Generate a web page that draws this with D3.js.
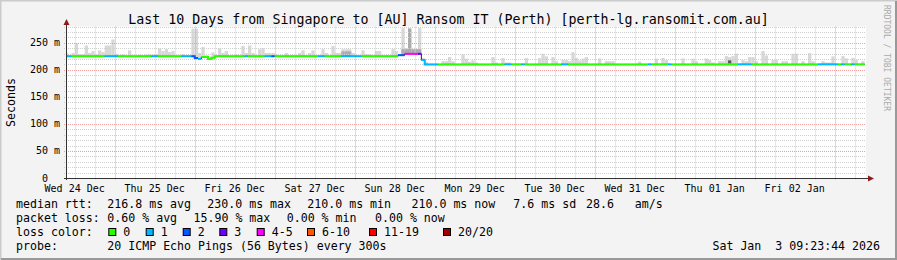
<!DOCTYPE html>
<html><head><meta charset="utf-8">
<script src="https://cdn.jsdelivr.net/npm/d3@7"></script>
<style>
html,body{margin:0;padding:0;background:#f3f3f3;}
svg{display:block;}
text{font-family:"DejaVu Sans Mono",monospace;white-space:pre;}
</style></head><body><svg id="c" width="897" height="260"></svg>
<script>
const title = "Last 10 Days from Singapore to [AU] Ransom IT (Perth) [perth-lg.ransomit.com.au]";
const startTime = Date.UTC(2025,11,24,9,23,44);
const endTime = Date.UTC(2026,0,3,9,23,44);
const firstBinTime = Date.UTC(2025,11,24,9,0,0);
const binCount = 240;
const dayLabels = ["Wed 24 Dec","Thu 25 Dec","Fri 26 Dec","Sat 27 Dec","Sun 28 Dec","Mon 29 Dec","Tue 30 Dec","Wed 31 Dec","Thu 01 Jan","Fri 02 Jan"];
const yTicks = [0,50,100,150,200,250];
const yTickNums = ["0","50","100","150","200","250"];
const yTickUnits = [" ","m","m","m","m","m"];

// median rtt (ms) as steps: value holds from this bin on
const medianStartBin = [0,39,40,41,43,44,45,100,102,107,108];
const medianValue    = [225,222,220,223.5,220,222.4,225,227,229.5,218,210];

// loss class per step (0:0, 1:1, 2:2, 3:3, 4:4-5)
const lossStartBin = [0,2,12,16,26,28,35,38,40,41,54,55,60,62,63,76,78,83,89,100,102,106,107,112,132,134,137,138,149,151,175,176,181,182,202,206,226,232,233,234,236,237];
const lossClass    = [1,0,1, 0, 1, 0, 1, 2, 1, 0, 1, 0, 1, 2, 0, 1, 0, 1, 0, 2,  4,  3,  1,  0,  1,  0,  1,  0,  1,  0,  1,  0,  1,  0,  1,  0,  1,  0,  1,  0,  1,  0];

// smoke: maximum rtt per hourly bin where visible above the median line
const smokeBin = [0,2,3,4,5,6,7,8,9,10,11,12,13,14,15,17,19,22,24,25,26,27,28,29,30,31,32,35,38,39,40,41,42,44,46,47,48,51,53,54,55,56,58,59,60,61,62,63,66,70,71,73,74,77,78,80,81,82,83,84,85,86,89,90,91,93,94,98,99,101,102,103,104,105,106,107,108,113,114,115,116,119,120,121,122,123,128,129,131,132,133,138,142,143,144,146,147,149,150,151,152,153,154,155,156,160,162,163,164,172,177,179,180,185,188,189,192,193,194,196,197,198,199,200,201,203,204,205,206,207,209,210,212,213,215,216,218,219,221,223,224,227,228,229,230,233,234,236,237,239];
const smokeMax = [231,231,249,229,229,245,231,234.6,229,236,232.7,245,245,256,229,229,236,228,228,229,228,229,239.5,234.6,238,232.7,234.6,229,276,276,231,242,227,232,239.5,231,234.6,228,244,231,245,231,238,240,231,231,231,228,231,231,236,231,236,238,231,244,231,231,238,238,238,231,236,229,229,234.6,234.6,238,234.6,277,240,277,238,238,277,222,214,216,216,223.5,216,228.5,220.5,215,217.4,213.5,223.5,213.5,221.6,213.5,213.5,221.6,221.6,229.7,224.8,223.5,216,218,218,216,232.7,222,217.4,220.5,223.5,221,216,216,216,215,220.5,222,218,221,220.5,216,221,218,213.5,216,216,225.3,223.5,225.3,229.7,218,216,223.5,223.5,216,234.6,226.6,218,218,216,216,229.7,229.7,216,230.7,216,216,213.5,213.5,224.8,225.3,221,222,218,216];
// darker (denser) smoke portion
const smokeMidBin = [83,84,85,101,102,103,104,105,106];
const smokeMid    = [234,234,234,238,238,276,238,238,238];
// very dense smoke cell
const denseBin = [199];
const denseLo = [211.6];
const denseHi = [217.4];

const lossLegend = ["0","1","2","3","4-5","6-10","11-19","20/20"];
const lossColors = ["#26ff00","#00b8ff","#0059ff","#7000ff","#ff00ff","#ff5500","#ff0000","#a00000"];

const statsRows = [
  ["median rtt:", ["216.8 ms avg","230.0 ms max","210.0 ms min","210.0 ms now","7.6 ms sd","28.6   am/s"]],
  ["packet loss:", ["0.60 % avg","15.90 % max","0.00 % min","0.00 % now"]]
];
const probeText = "20 ICMP Echo Pings (56 Bytes) every 300s";
const stampText = "Sat Jan  3 09:23:44 2026";

// ---------------------------------------------------------------
const svg = d3.select("#c");
const W = 897, H = 260;
const X0 = 66, X1 = 866, Y0 = 178, YT = 26.5;
const x = d3.scaleUtc().domain([new Date(startTime), new Date(endTime)]).range([X0, X1]);
const y = d3.scaleLinear().domain([0, 280]).range([Y0, YT]);
const binT = b => new Date(firstBinTime + b * 3600e3);
const cx = v => Math.max(X0, Math.min(X1, x(v)));

// background + 3D border
svg.append("rect").attr("width", W).attr("height", H).attr("fill", "#f3f3f3");
svg.append("path").attr("d", `M0.5,${H}V0.5H${W}`).attr("stroke", "#cbcbcb").attr("stroke-width", 2).attr("fill", "none");
svg.append("path").attr("d", `M${W-1},1V${H-1}H1`).attr("stroke", "#999").attr("stroke-width", 2).attr("fill", "none");

// canvas
svg.append("rect").attr("x", X0).attr("y", YT).attr("width", X1 - X0).attr("height", Y0 - YT).attr("fill", "#fff");

// smoke
const gS = svg.append("g");
const medianAt = b => { let v = medianValue[0]; medianStartBin.forEach((s, i) => { if (b >= s) v = medianValue[i]; }); return v; };
const lossAt = b => { let v = lossClass[0]; lossStartBin.forEach((s, i) => { if (b >= s) v = lossClass[i]; }); return v; };
smokeBin.forEach((b, i) => {
  const xa = cx(binT(b)), xb = cx(binT(b + 1));
  gS.append("rect").attr("x", xa).attr("width", xb - xa)
    .attr("y", y(smokeMax[i])).attr("height", y(medianAt(b)) - y(smokeMax[i]))
    .attr("fill", "#d8d8d8");
});
smokeMidBin.forEach((b, i) => {
  const xa = cx(binT(b)), xb = cx(binT(b + 1));
  gS.append("rect").attr("x", xa).attr("width", xb - xa)
    .attr("y", y(smokeMid[i])).attr("height", y(medianAt(b)) - y(smokeMid[i]))
    .attr("fill", "#ababab");
});
denseBin.forEach((b, i) => {
  const xa = cx(binT(b)), xb = cx(binT(b + 1));
  gS.append("rect").attr("x", xa).attr("width", xb - xa)
    .attr("y", y(denseHi[i])).attr("height", y(denseLo[i]) - y(denseHi[i]))
    .attr("fill", "#5a5a5a");
});

// grid
const gG = svg.append("g").attr("fill", "none").attr("stroke-dasharray", "1,1");
for (let v = 10; v <= 280; v += 10) {
  const yy = Math.round(y(v)) + 0.5;
  if (yy < YT) continue;
  const major = v % 50 === 0;
  gG.append("line").attr("x1", X0 - 2).attr("x2", X1).attr("y1", yy).attr("y2", yy)
    .attr("stroke", major ? "#f19d9d" : "#cfcfcf");
}
d3.utcHour.every(6).range(new Date(startTime), new Date(endTime)).forEach(t => {
  const xx = Math.round(x(t)) + 0.5;
  const major = t.getUTCHours() === 0;
  gG.append("line").attr("x1", xx).attr("x2", xx).attr("y1", YT).attr("y2", Y0 + 2)
    .attr("stroke", major ? "#f19d9d" : "#cfcfcf");
});

// median: dark thin step line underneath
const bins = d3.range(binCount);
const stepPts = [];
bins.forEach(b => { stepPts.push([cx(binT(b)), y(medianAt(b))]); stepPts.push([cx(binT(b + 1)), y(medianAt(b))]); });
svg.append("path").attr("d", d3.line()(stepPts)).attr("fill", "none").attr("stroke", "#202020").attr("stroke-width", 1);

// coloured runs by loss class
let runs = [];
bins.forEach(b => {
  const c = lossAt(b);
  if (!runs.length || runs[runs.length - 1].c !== c) runs.push({ c, pts: [] });
  const r = runs[runs.length - 1];
  r.pts.push([cx(binT(b)), y(medianAt(b))]);
  r.pts.push([cx(binT(b + 1)), y(medianAt(b))]);
});
runs.forEach(r => {
  svg.append("path").attr("d", d3.line()(r.pts)).attr("fill", "none")
    .attr("stroke", lossColors[r.c]).attr("stroke-width", 2);
});

// axes
svg.append("line").attr("x1", X0 + 0.5).attr("x2", X0 + 0.5).attr("y1", Y0 + 2).attr("y2", 22).attr("stroke", "#333");
svg.append("line").attr("x1", X0 - 2).attr("x2", 869).attr("y1", Y0 + 0.5).attr("y2", Y0 + 0.5).attr("stroke", "#333");
svg.append("path").attr("d", `M${X0 - 2.5},25L${X0 + 0.5},19L${X0 + 3.5},25Z`).attr("fill", "#8b1a1a");
svg.append("path").attr("d", `M868,${Y0 - 2.5}L874,${Y0 + 0.5}L868,${Y0 + 3.5}Z`).attr("fill", "#8b1a1a");

// y labels
yTicks.forEach((v, i) => {
  svg.append("text").attr("x", 48).attr("y", y(v) + 3.5).attr("text-anchor", "end")
    .attr("font-size", 10).attr("fill", "#000").text(yTickNums[i]);
  svg.append("text").attr("x", 54).attr("y", y(v) + 3.5)
    .attr("font-size", 10).attr("fill", "#000").text(yTickUnits[i]);
});
// x labels at noon
dayLabels.forEach((d, i) => {
  const t = new Date(Date.UTC(2025, 11, 24 + i, 12, 0, 0));
  svg.append("text").attr("x", x(t)).attr("y", 191.5).attr("text-anchor", "middle")
    .attr("font-size", 10).attr("fill", "#000").text(d);
});

// titles
svg.append("text").attr("x", 448.5).attr("y", 24).attr("text-anchor", "middle")
  .attr("font-size", 13.3).attr("fill", "#000").text(title);
svg.append("text").attr("transform", "translate(15,102.5) rotate(-90)").attr("text-anchor", "middle")
  .attr("font-size", 11.6).attr("fill", "#000").text("Seconds");
svg.append("text").attr("transform", "translate(883.5,5) rotate(90)")
  .attr("font-size", 8).attr("fill", "#aaaaaa").text("RRDTOOL / TOBI OETIKER");

// legend
const LF = 11.6;
const statX = [[107.3, 207.3, 307.3, 411.5, 513.3, 586], [107.3, 193.5, 286.7, 375]];
statsRows.forEach((row, r) => {
  const yy = 208 + r * 14;
  svg.append("text").attr("x", 16).attr("y", yy).attr("font-size", LF).text(row[0]);
  row[1].forEach((s, j) => svg.append("text").attr("x", statX[r][j]).attr("y", yy).attr("font-size", LF).text(s));
});
svg.append("text").attr("x", 16).attr("y", 236).attr("font-size", LF).text("loss color:");
const boxX = [108.3, 145.7, 182.7, 219.3, 256.7, 307, 369, 443];
lossLegend.forEach((l, i) => {
  svg.append("rect").attr("x", boxX[i] + 0.5).attr("y", 228.5).attr("width", 7).attr("height", 7)
    .attr("fill", lossColors[i]).attr("stroke", "#000").attr("stroke-width", 1);
  svg.append("text").attr("x", boxX[i] + 15).attr("y", 236).attr("font-size", LF).text(l);
});
svg.append("text").attr("x", 16).attr("y", 250).attr("font-size", LF).text("probe:");
svg.append("text").attr("x", 107.3).attr("y", 250).attr("font-size", LF).text(probeText);
svg.append("text").attr("x", 880).attr("y", 250).attr("text-anchor", "end").attr("font-size", LF).text(stampText);
</script></body></html>
